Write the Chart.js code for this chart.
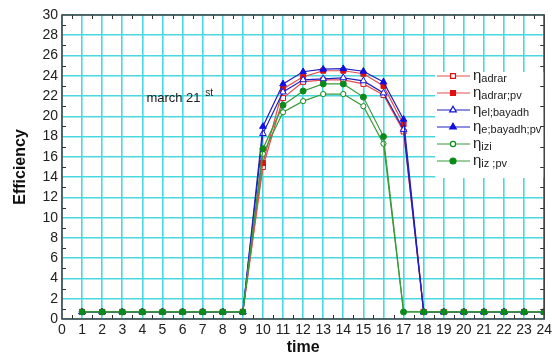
<!DOCTYPE html>
<html>
<head>
<meta charset="utf-8">
<script src="https://cdn.jsdelivr.net/npm/chart.js@4.4.1/dist/chart.umd.min.js"></script>
<style>
  html, body { margin: 0; padding: 0; background: #fff; }
  #wrap { width: 555px; height: 358px; }
</style>
</head>
<body>
<div id="wrap"><canvas id="c" width="555" height="358"></canvas></div>
<script>
// hours of the day
const hours = [1, 2, 3, 4, 5, 6, 7, 8, 9, 10, 11, 12, 13, 14, 15, 16, 17, 18, 19, 20, 21, 22, 23, 24];

// efficiency series
const adrar    = [0.7, 0.7, 0.7, 0.7, 0.7, 0.7, 0.7, 0.7, 0.7, 15.0, 21.8, 23.4, 23.6, 23.6, 23.2, 22.1, 18.5, 0.7, 0.7, 0.7, 0.7, 0.7, 0.7, 0.7];
const adrarPv  = [0.7, 0.7, 0.7, 0.7, 0.7, 0.7, 0.7, 0.7, 0.7, 15.4, 22.7, 23.9, 24.5, 24.5, 24.2, 23.0, 19.2, 0.7, 0.7, 0.7, 0.7, 0.7, 0.7, 0.7];
const bayadh   = [0.7, 0.7, 0.7, 0.7, 0.7, 0.7, 0.7, 0.7, 0.7, 18.3, 22.4, 23.6, 23.7, 23.8, 23.5, 22.3, 18.7, 0.7, 0.7, 0.7, 0.7, 0.7, 0.7, 0.7];
const bayadhPv = [0.7, 0.7, 0.7, 0.7, 0.7, 0.7, 0.7, 0.7, 0.7, 19.0, 23.2, 24.4, 24.65, 24.7, 24.45, 23.4, 19.7, 0.7, 0.7, 0.7, 0.7, 0.7, 0.7, 0.7];
const izi      = [0.7, 0.7, 0.7, 0.7, 0.7, 0.7, 0.7, 0.7, 0.7, 16.3, 20.4, 21.5, 22.2, 22.2, 21.0, 17.3, 0.7, 0.7, 0.7, 0.7, 0.7, 0.7, 0.7, 0.7];
const iziPv    = [0.7, 0.7, 0.7, 0.7, 0.7, 0.7, 0.7, 0.7, 0.7, 16.8, 21.1, 22.5, 23.2, 23.2, 21.9, 18.0, 0.7, 0.7, 0.7, 0.7, 0.7, 0.7, 0.7, 0.7];

// legend subscripts (shown after the eta)
const legendLabels = ['adrar', 'adrar;pv', 'el;bayadh', 'e;bayadh;pv', 'izi', 'iz ;pv'];

const RED = '#e01010', RED_LINE = '#e05050';
const BLUE = '#1010e0', BLUE_LINE = '#2020c0';
const GREEN = '#0a8a1a', GREEN_LINE = '#3a9a3a';
const GRID = '#4ad8e0';
const FONT = '"Liberation Sans", Arial, sans-serif';

function toXY(ys) {
    return hours.map((h, i) => ({ x: h, y: ys[i] }));
}

function series(label, ys, lineColor, markColor, style, filled, radius, order) {
    return {
        label: label,
        data: toXY(ys),
        borderColor: lineColor,
        borderWidth: 1.2,
        pointStyle: style,
        pointRadius: radius,
        pointBorderColor: markColor,
        pointBackgroundColor: filled ? markColor : '#ffffff',
        pointBorderWidth: 1,
        tension: 0,
        order: order
    };
}

const datasets = [
    series('adrar', adrar, RED_LINE, RED, 'rect', false, 3.5, 6),
    series('adrar;pv', adrarPv, RED_LINE, RED, 'rect', true, 3.5, 5),
    series('el;bayadh', bayadh, BLUE_LINE, BLUE, 'triangle', false, 3.8, 4),
    series('e;bayadh;pv', bayadhPv, BLUE_LINE, BLUE, 'triangle', true, 3.8, 3),
    series('izi', izi, GREEN_LINE, GREEN, 'circle', false, 2.6, 2),
    series('iz ;pv', iziPv, GREEN_LINE, GREEN, 'circle', true, 3, 1)
];

// frame, inner minor ticks, legend and note
const decorPlugin = {
    id: 'decor',
    afterDraw(chart) {
        const ctx = chart.ctx;
        const a = chart.chartArea;
        const xs = chart.scales.x, ys = chart.scales.y;
        ctx.save();

        // legend box (covers the grid, under the frame)
        const lx = 435, ly = 72;
        ctx.fillStyle = '#ffffff';
        ctx.fillRect(lx, ly, a.right - lx, 106);

        // minor ticks pointing inward
        ctx.strokeStyle = '#303030';
        ctx.lineWidth = 1;
        for (let v = 0.5; v < 24; v += 1) {
            const px = Math.round(xs.getPixelForValue(v)) + 0.5;
            ctx.beginPath();
            ctx.moveTo(px, a.bottom); ctx.lineTo(px, a.bottom - 4);
            ctx.moveTo(px, a.top); ctx.lineTo(px, a.top + 4);
            ctx.stroke();
        }
        for (let v = 1; v < 30; v += 2) {
            const py = Math.round(ys.getPixelForValue(v)) + 0.5;
            ctx.beginPath();
            ctx.moveTo(a.left, py); ctx.lineTo(a.left + 4, py);
            ctx.moveTo(a.right, py); ctx.lineTo(a.right - 4, py);
            ctx.stroke();
        }

        // frame
        ctx.strokeStyle = '#404040';
        ctx.lineWidth = 1.5;
        ctx.strokeRect(a.left, a.top, a.right - a.left, a.bottom - a.top);

        // legend entries
        const rowY = [76, 93, 110, 127, 144, 161];
        datasets.forEach((ds, i) => {
            const y = rowY[i];
            ctx.strokeStyle = ds.borderColor;
            ctx.lineWidth = 1.2;
            ctx.beginPath();
            ctx.moveTo(lx + 2, y); ctx.lineTo(lx + 35, y);
            ctx.stroke();
            ctx.fillStyle = ds.pointBackgroundColor;
            ctx.strokeStyle = ds.pointBorderColor;
            Chart.helpers.drawPoint(ctx, {
                pointStyle: ds.pointStyle,
                radius: ds.pointRadius,
                borderWidth: 1,
                rotation: 0
            }, lx + 18, y);

            ctx.fillStyle = '#202020';
            ctx.textBaseline = 'alphabetic';
            ctx.textAlign = 'left';
            ctx.font = '15px ' + FONT;
            ctx.fillText('\u03b7', lx + 38, y + 4);
            const w = ctx.measureText('\u03b7').width;
            ctx.font = '11px ' + FONT;
            ctx.fillText(legendLabels[i], lx + 38 + w, y + 6);
        });

        // note
        ctx.fillStyle = '#202020';
        ctx.font = '13px ' + FONT;
        ctx.textBaseline = 'alphabetic';
        const nx = xs.getPixelForValue(4.2), ny = ys.getPixelForValue(21.4);
        ctx.fillText('march 21', nx, ny);
        const nw = ctx.measureText('march 21 ').width;
        ctx.font = '10px ' + FONT;
        ctx.fillText('st', nx + nw + 1, ny - 6);

        ctx.restore();
    }
};

new Chart(document.getElementById('c'), {
    type: 'line',
    data: { datasets: datasets },
    options: {
        responsive: false,
        animation: false,
        layout: { padding: { top: 15, right: 6, left: 0, bottom: 0 } },
        plugins: {
            legend: { display: false },
            tooltip: { enabled: false }
        },
        scales: {
            x: {
                type: 'linear',
                min: 0,
                max: 24,
                afterFit: function(scale) { scale.height = 39; },
                ticks: {
                    stepSize: 1,
                    autoSkip: false,
                    maxRotation: 0,
                    padding: 3,
                    color: '#202020',
                    font: { family: FONT, size: 14 }
                },
                grid: { color: GRID, lineWidth: 1.6, drawTicks: false },
                border: { display: false },
                title: {
                    display: true,
                    text: 'time',
                    color: '#101010',
                    padding: { top: 0, bottom: 1 },
                    font: { family: FONT, size: 16, weight: 'bold' }
                }
            },
            y: {
                min: 0,
                max: 30,
                afterFit: function(scale) { scale.width = 62; },
                ticks: {
                    stepSize: 2,
                    padding: 4,
                    color: '#202020',
                    font: { family: FONT, size: 14 }
                },
                grid: { color: GRID, lineWidth: 1.6, drawTicks: false },
                border: { display: false },
                title: {
                    display: true,
                    text: 'Efficiency',
                    color: '#101010',
                    padding: { top: 11, bottom: 0 },
                    font: { family: FONT, size: 16, weight: 'bold' }
                }
            }
        }
    },
    plugins: [decorPlugin]
});
</script>
</body>
</html>
